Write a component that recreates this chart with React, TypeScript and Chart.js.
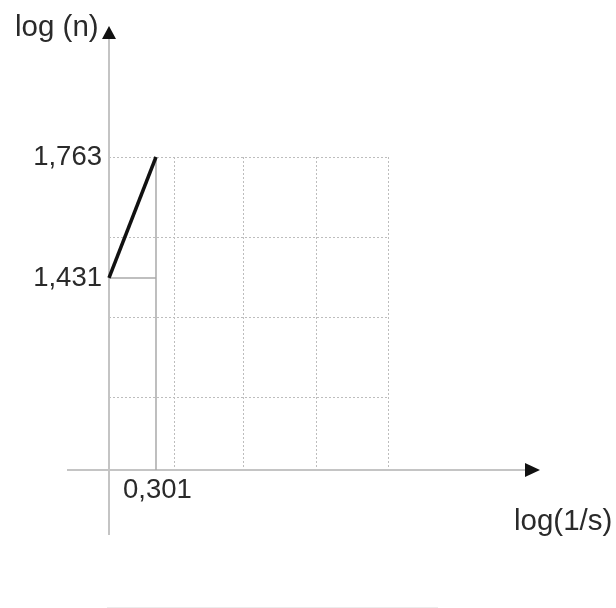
import React, { useEffect, useRef } from "react";
import { Chart, registerables } from "chart.js";

Chart.register(...registerables);

// Data
const lineX = [0, 0.301];
const lineY = [1.431, 1.763];
const gridX = [0.416, 0.859, 1.327, 1.787];
const gridY = [1.763, 1.543, 1.324, 1.105];
const yTickValues = [1.763, 1.431];
const yTickLabels = ["1,763", "1,431"];
const xTickValues = [0.301];
const xTickLabels = ["0,301"];
const xAxisTitle = "log(1/s)";
const yAxisTitle = "log (n)";

const FONT = "'Liberation Sans', Arial, sans-serif";

const decorPlugin = {
  id: "decor",
  beforeDatasetsDraw(chart: any) {
    const { ctx, scales } = chart;
    const xs = scales.x;
    const ys = scales.y;
    const x0 = xs.getPixelForValue(0);
    const y0 = ys.getPixelForValue(ys.min);
    const xEnd = xs.getPixelForValue(xs.max);
    const yTop = ys.getPixelForValue(ys.max);
    ctx.save();
    // dotted grid
    ctx.strokeStyle = "#bdbdbd";
    ctx.lineWidth = 1;
    ctx.setLineDash([2, 2]);
    gridX.forEach((v) => {
      const px = Math.round(xs.getPixelForValue(v)) + 0.5;
      ctx.beginPath();
      ctx.moveTo(px, yTop);
      ctx.lineTo(px, y0);
      ctx.stroke();
    });
    gridY.forEach((v) => {
      const py = Math.round(ys.getPixelForValue(v)) + 0.5;
      ctx.beginPath();
      ctx.moveTo(x0, py);
      ctx.lineTo(xEnd, py);
      ctx.stroke();
    });
    ctx.setLineDash([]);
    // axes
    ctx.strokeStyle = "#c4c4c4";
    ctx.lineWidth = 2;
    ctx.beginPath();
    ctx.moveTo(67, y0);
    ctx.lineTo(528, y0);
    ctx.stroke();
    ctx.beginPath();
    ctx.moveTo(x0, 535);
    ctx.lineTo(x0, 36);
    ctx.stroke();
    // arrows
    ctx.fillStyle = "#111";
    ctx.beginPath();
    ctx.moveTo(540, y0);
    ctx.lineTo(525, y0 - 7);
    ctx.lineTo(525, y0 + 7);
    ctx.closePath();
    ctx.fill();
    ctx.beginPath();
    ctx.moveTo(x0, 26);
    ctx.lineTo(x0 - 7, 39);
    ctx.lineTo(x0 + 7, 39);
    ctx.closePath();
    ctx.fill();
    // faint bottom line
    ctx.strokeStyle = "#ececec";
    ctx.lineWidth = 1;
    ctx.beginPath();
    ctx.moveTo(107, 607.5);
    ctx.lineTo(438, 607.5);
    ctx.stroke();
    ctx.restore();
  },
  afterDatasetsDraw(chart: any) {
    const { ctx, scales } = chart;
    const xs = scales.x;
    const ys = scales.y;
    const y0 = ys.getPixelForValue(ys.min);
    ctx.save();
    ctx.fillStyle = "#2a2a2a";
    ctx.font = `27.5px ${FONT}`;
    ctx.textAlign = "right";
    ctx.textBaseline = "middle";
    yTickValues.forEach((v, i) => {
      ctx.fillText(yTickLabels[i], 102, ys.getPixelForValue(v));
    });
    ctx.textAlign = "left";
    ctx.textBaseline = "top";
    xTickValues.forEach((v, i) => {
      ctx.fillText(xTickLabels[i], xs.getPixelForValue(v) - 33, y0 + 7);
    });
    ctx.font = `29.5px ${FONT}`;
    ctx.textBaseline = "middle";
    ctx.fillText(yAxisTitle, 15, 28);
    ctx.fillText(xAxisTitle, 514, 522);
    ctx.restore();
  },
};

export default function App() {
  const ref = useRef<HTMLCanvasElement | null>(null);
  useEffect(() => {
    document.body.style.margin = "0";
    const canvas = ref.current!;
    const chart = new Chart(canvas, {
      type: "scatter",
      data: {
        datasets: [
          {
            data: lineX.map((x, i) => ({ x, y: lineY[i] })),
            showLine: true,
            borderColor: "#111",
            borderWidth: 3.5,
            pointRadius: 0,
            clip: false,
          } as any,
          {
            data: [
              { x: lineX[1], y: lineY[1] },
              { x: lineX[1], y: 0.904 },
            ],
            showLine: true,
            borderColor: "#aaaaaa",
            borderWidth: 1.5,
            pointRadius: 0,
            clip: false,
          } as any,
          {
            data: [
              { x: lineX[0], y: lineY[0] },
              { x: lineX[1], y: lineY[0] },
            ],
            showLine: true,
            borderColor: "#aaaaaa",
            borderWidth: 1.5,
            pointRadius: 0,
            clip: false,
          } as any,
        ],
      },
      options: {
        responsive: false,
        animation: false,
        layout: { padding: { left: 109, top: 157, right: 228, bottom: 138 } },
        plugins: { legend: { display: false }, tooltip: { enabled: false } },
        scales: {
          x: { type: "linear", display: false, min: 0, max: 1.787 },
          y: { type: "linear", display: false, min: 0.904, max: 1.763 },
        },
      },
      plugins: [decorPlugin],
    });
    return () => chart.destroy();
  }, []);
  return (
    <div style={{ width: 616, height: 608, background: "#fff" }}>
      <canvas ref={ref} width={616} height={608} />
    </div>
  );
}
